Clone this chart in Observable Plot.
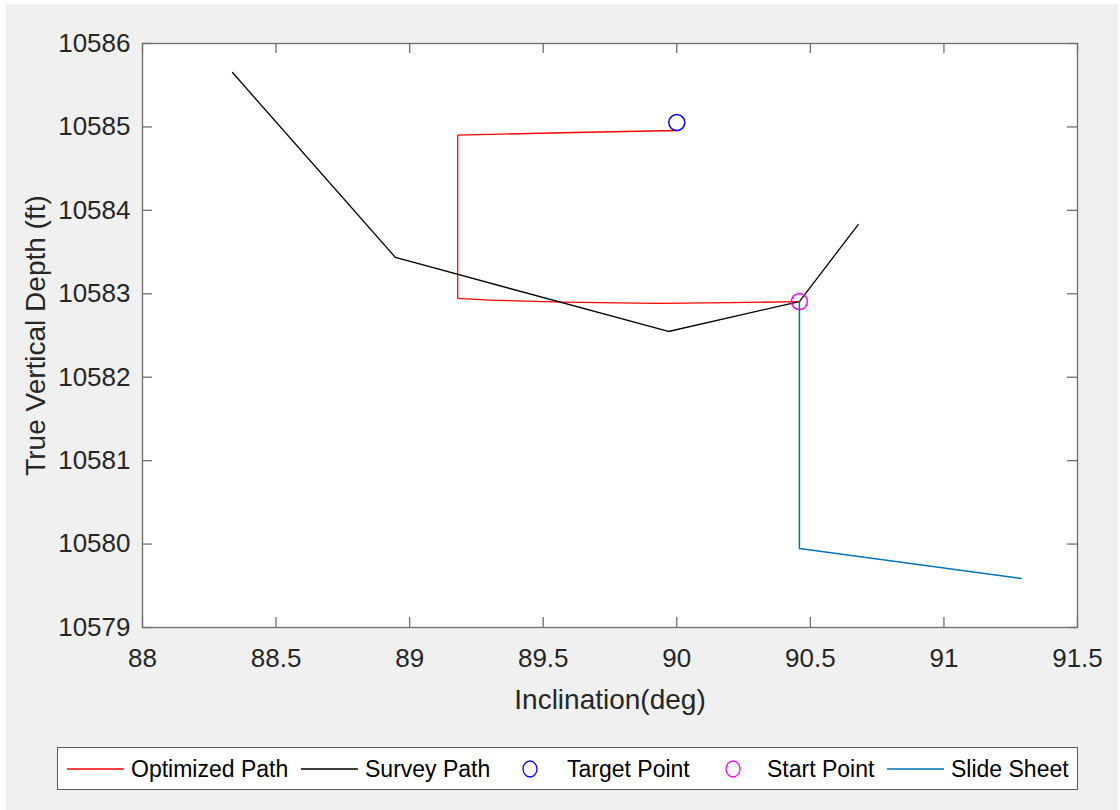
<!DOCTYPE html>
<html>
<head>
<meta charset="utf-8">
<script src="https://cdn.jsdelivr.net/npm/d3@7"></script>
<script src="https://cdn.jsdelivr.net/npm/@observablehq/plot@0.6"></script>
<style>
  html, body { margin: 0; padding: 0; background: #ffffff; }
  #fig { position: absolute; left: 6px; top: 4px; width: 1112px; height: 806px; background: #f0f0f0; overflow: hidden; }
  #chart { position: absolute; left: 0; top: 0; }
  #legend { position: absolute; left: 51px; top: 743px; width: 1019px; height: 41px; background: #ffffff; border: 1px solid #5a5a5a; }
  #legend svg { display: block; }
</style>
</head>
<body>
<div id="fig">
  <div id="chart"></div>
  <div id="legend"></div>
</div>
<script>
// ---- data ----
const xTicks = [88, 88.5, 89, 89.5, 90, 90.5, 91, 91.5];
const yTicks = [10579, 10580, 10581, 10582, 10583, 10584, 10585, 10586];

const surveyX = [88.337, 88.947, 89.969, 90.459, 90.679];
const surveyY = [10585.652, 10583.435, 10582.548, 10582.907, 10583.830];

const optX = [90.459, 90.20, 89.93, 89.57, 89.30, 89.18, 89.18, 89.57, 90.00];
const optY = [10582.905, 10582.893, 10582.885, 10582.899, 10582.925, 10582.944, 10584.901, 10584.930, 10584.957];

const slideX = [90.459, 90.459, 91.290];
const slideY = [10582.907, 10579.947, 10579.587];

const targetX = [90.00];
const targetY = [10585.053];
const startX = [90.459];
const startY = [10582.907];

const legendLabels = ["Optimized Path", "Survey Path", "Target Point", "Start Point", "Slide Sheet"];
const legendKinds = ["line", "line", "circle", "circle", "line"];
const legendColors = ["#ff0000", "#000000", "#0000ff", "#ff00ff", "#0072bd"];

// ---- tables ----
const zip = (xs, ys) => xs.map((x, i) => ({x, y: ys[i]}));
const survey = zip(surveyX, surveyY);
const opt = zip(optX, optY);
const slide = zip(slideX, slideY);
const target = zip(targetX, targetY);
const start = zip(startX, startY);

const W = 1112, H = 745, mL = 136, mT = 39, mR = 41, mB = 122;
const innerW = W - mL - mR, innerH = H - mT - mB;
const tickLen = 10;
const axisColor = "#6e6e6e";
const font = "'Liberation Sans', Arial, Helvetica, sans-serif";

const chart = Plot.plot({
  width: W, height: H,
  marginLeft: mL, marginTop: mT, marginRight: mR, marginBottom: mB,
  x: {domain: [88, 91.5]},
  y: {domain: [10579, 10586]},
  style: {background: "transparent", fontFamily: font, color: "#262626"},
  marks: [
    Plot.frame({fill: "#ffffff", stroke: "none"}),
    // inward ticks on all four sides
    Plot.tickX(xTicks, {x: d => d, insetTop: innerH - tickLen, stroke: axisColor, strokeWidth: 1.3}),
    Plot.tickX(xTicks, {x: d => d, insetBottom: innerH - tickLen, stroke: axisColor, strokeWidth: 1.3}),
    Plot.tickY(yTicks, {y: d => d, insetRight: innerW - tickLen, stroke: axisColor, strokeWidth: 1.3}),
    Plot.tickY(yTicks, {y: d => d, insetLeft: innerW - tickLen, stroke: axisColor, strokeWidth: 1.3}),
    // series
    Plot.line(opt, {x: "x", y: "y", stroke: "#ff0000", strokeWidth: 1.3}),
    Plot.line(survey, {x: "x", y: "y", stroke: "#000000", strokeWidth: 1.3}),
    Plot.dot(target, {x: "x", y: "y", r: 8, stroke: "#0000ff", fill: "none", strokeWidth: 1.5}),
    Plot.dot(start, {x: "x", y: "y", r: 8, stroke: "#ff00ff", fill: "none", strokeWidth: 1.5}),
    Plot.line(slide, {x: "x", y: "y", stroke: "#0072bd", strokeWidth: 1.5}),
    Plot.frame({stroke: axisColor, strokeWidth: 1.3}),
    Plot.axisX(xTicks, {tickSize: 0, tickPadding: 21, fontSize: 26, label: null, tickFormat: d => String(d)}),
    Plot.axisY(yTicks, {tickSize: 0, tickPadding: 12, fontSize: 26, label: null, tickFormat: d => String(d)}),
    Plot.text(["Inclination(deg)"], {text: d => d, frameAnchor: "bottom", dy: 73, fontSize: 28, textAnchor: "middle", lineAnchor: "middle", fill: "#262626"}),
    Plot.text(["True Vertical Depth (ft)"], {text: d => d, frameAnchor: "left", dx: -106, rotate: -90, fontSize: 28, textAnchor: "middle", lineAnchor: "middle", fill: "#262626"})
  ]
});
document.getElementById("chart").appendChild(chart);

// ---- legend ----
const itemX = [9, 243, 472, 675, 829]; // symbol start (line) or centre (circle)
const textX = [73, 307, 509, 709, 893];
const lw = 1019, lh = 41, cy = 21;
const svg = d3.select("#legend").append("svg").attr("width", lw).attr("height", lh);
legendLabels.forEach((lab, i) => {
  if (legendKinds[i] === "line") {
    svg.append("line").attr("x1", itemX[i]).attr("x2", itemX[i] + 57)
      .attr("y1", cy).attr("y2", cy).attr("stroke", legendColors[i]).attr("stroke-width", 1.3);
  } else {
    svg.append("ellipse").attr("cx", itemX[i]).attr("cy", cy).attr("rx", 7).attr("ry", 8)
      .attr("fill", "none").attr("stroke", legendColors[i]).attr("stroke-width", 1.3);
  }
  svg.append("text").attr("x", textX[i]).attr("y", cy).attr("dy", "0.35em")
    .attr("font-family", font).attr("font-size", 23).attr("fill", "#000").text(lab);
});
</script>
</body>
</html>
